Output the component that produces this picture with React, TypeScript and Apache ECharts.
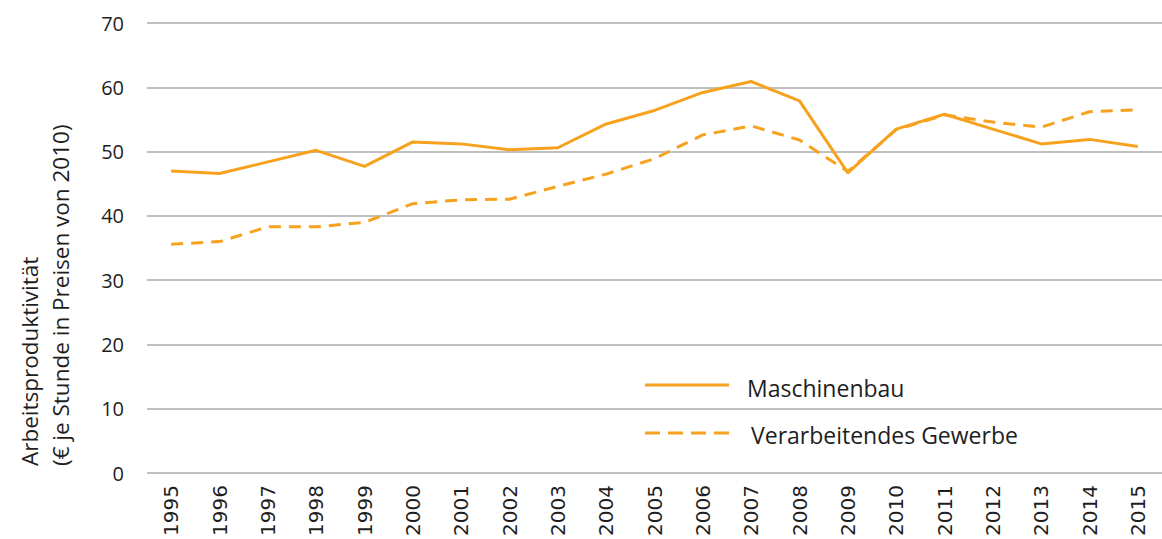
import React, { useEffect, useRef } from "react";
import * as echarts from "echarts";

const years = ["1995","1996","1997","1998","1999","2000","2001","2002","2003","2004","2005","2006","2007","2008","2009","2010","2011","2012","2013","2014","2015"];
const maschinenbau = [47.0, 46.6, 48.4, 50.2, 47.7, 51.5, 51.2, 50.3, 50.6, 54.3, 56.4, 59.2, 60.9, 57.9, 46.7, 53.5, 55.8, 53.5, 51.2, 51.9, 50.8];
const verarbeitendes = [35.6, 36.0, 38.3, 38.3, 39.0, 41.9, 42.5, 42.6, 44.6, 46.5, 48.9, 52.6, 54.0, 51.8, 46.9, 53.4, 55.7, 54.6, 53.8, 56.2, 56.5];
const seriesNames = ["Maschinenbau", "Verarbeitendes Gewerbe"];
const yTitle = "Arbeitsproduktivität\n(€ je Stunde in Preisen von 2010)";

const ORANGE = "#F7A21E";
const FONT = "'Open Sans'";
const TEXT = "#1e1e1e";
const DASH = [15, 8];

export default function App() {
  const ref = useRef<HTMLDivElement>(null);
  useEffect(() => {
    const chart = echarts.init(ref.current!, undefined, { renderer: "svg" });
    chart.setOption({
      animation: false,
      grid: { left: 147, right: 0, top: 23, bottom: 63, containLabel: false },
      xAxis: {
        type: "category",
        data: years,
        boundaryGap: true,
        axisLine: { show: false },
        axisTick: { show: false },
        axisLabel: { rotate: 90, fontFamily: "'DejaVu Sans'", fontSize: 20, color: TEXT, margin: 12 },
      },
      yAxis: {
        type: "value",
        min: 0,
        max: 70,
        interval: 10,
        axisLine: { show: false },
        axisTick: { show: false },
        axisLabel: { fontFamily: FONT, fontSize: 20, color: TEXT, margin: 23 },
        splitLine: { lineStyle: { color: "#aaaaaa", width: 1.5 } },
      },
      graphic: [
        {
          type: "text",
          x: 14,
          y: 466,
          rotation: Math.PI / 2,
          style: {
            text: yTitle,
            fontFamily: FONT,
            fontSize: 22.5,
            lineHeight: 31,
            fill: TEXT,
            align: "left",
            verticalAlign: "top",
          },
        },
        {
          type: "line",
          shape: { x1: 645, y1: 385, x2: 729, y2: 385 },
          style: { stroke: ORANGE, lineWidth: 3 },
        },
        {
          type: "line",
          shape: { x1: 645, y1: 433, x2: 729, y2: 433 },
          style: { stroke: ORANGE, lineWidth: 3, lineDash: DASH },
        },
        {
          type: "text",
          x: 747,
          y: 388,
          style: { text: seriesNames[0], fontFamily: FONT, fontSize: 23, fill: TEXT, align: "left", verticalAlign: "middle" },
        },
        {
          type: "text",
          x: 751,
          y: 435,
          style: { text: seriesNames[1], fontFamily: FONT, fontSize: 23, fill: TEXT, align: "left", verticalAlign: "middle" },
        },
      ],
      series: [
        {
          name: seriesNames[0],
          type: "line",
          data: maschinenbau,
          symbol: "none",
          z: 3,
          lineStyle: { color: ORANGE, width: 3 },
          itemStyle: { color: ORANGE },
        },
        {
          name: seriesNames[1],
          type: "line",
          data: verarbeitendes,
          symbol: "none",
          z: 2,
          lineStyle: { color: ORANGE, width: 3, type: [12, 8] },
          itemStyle: { color: ORANGE },
        },
      ],
    });
    return () => chart.dispose();
  }, []);
  return <div ref={ref} style={{ width: 1162, height: 539, position: "absolute", left: 0, top: 0 }} />;
}
